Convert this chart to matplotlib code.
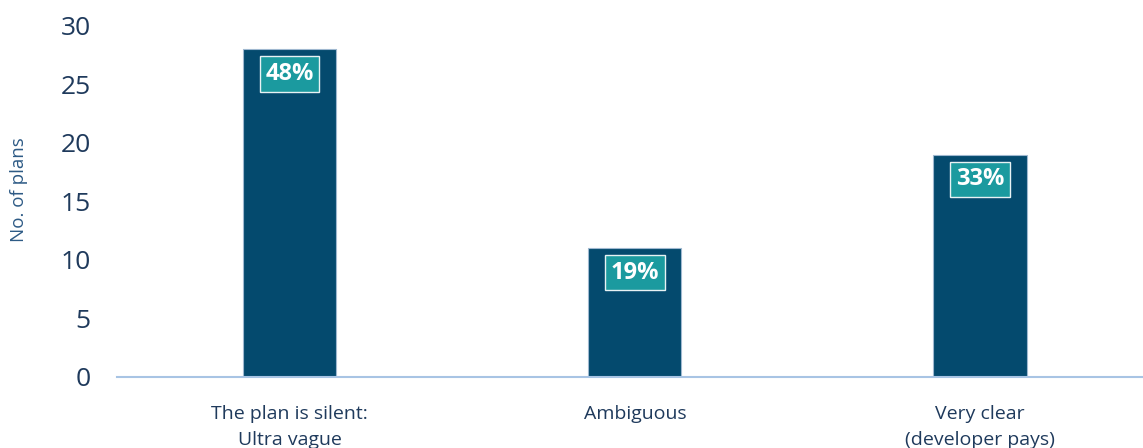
import matplotlib.pyplot as plt

categories = ["The plan is silent:\nUltra vague", "Ambiguous", "Very clear\n(developer pays)"]
counts = [28, 11, 19]
shares = ["48%", "19%", "33%"]

plt.rcParams['font.family'] = ['Open Sans', 'DejaVu Sans']

fig = plt.figure(figsize=(11.43, 4.48), dpi=100)
ax = fig.add_axes([0.1024, 0.1585, 0.906, 0.7835])

x = range(len(categories))
ax.bar(x, counts, width=0.27, color="#044a6e", edgecolor="#9fb8d0", linewidth=0.8, zorder=2)

for xi, c, s in zip(x, counts, shares):
    ax.annotate(s, (xi, c), xytext=(0, -9), textcoords="offset points",
                ha="center", va="top", fontsize=17, fontweight="bold", color="white",
                bbox=dict(boxstyle="square,pad=0.24", facecolor="#1b9a9f", edgecolor="#e8f2f4", linewidth=1.0))

ax.set_xlim(-0.5, 2.5)
ax.set_ylim(0, 30)
ax.set_yticks([0, 5, 10, 15, 20, 25, 30])
ax.set_xticks(list(x))
ax.set_xticklabels(categories, fontsize=14, color="#1f3a5c", linespacing=1.6)
ax.tick_params(axis="y", labelsize=19, colors="#1f3a5c", length=0, pad=19)
ax.tick_params(axis="x", length=0, pad=20)
ax.set_ylabel("No. of plans", fontsize=13.5, color="#2d5a85")
ax.yaxis.set_label_coords(-0.086, 0.533)

for side in ["top", "right", "left"]:
    ax.spines[side].set_visible(False)
ax.spines["bottom"].set_color("#a8c4e4")
ax.spines["bottom"].set_linewidth(1.5)

plt.savefig("out.png")
